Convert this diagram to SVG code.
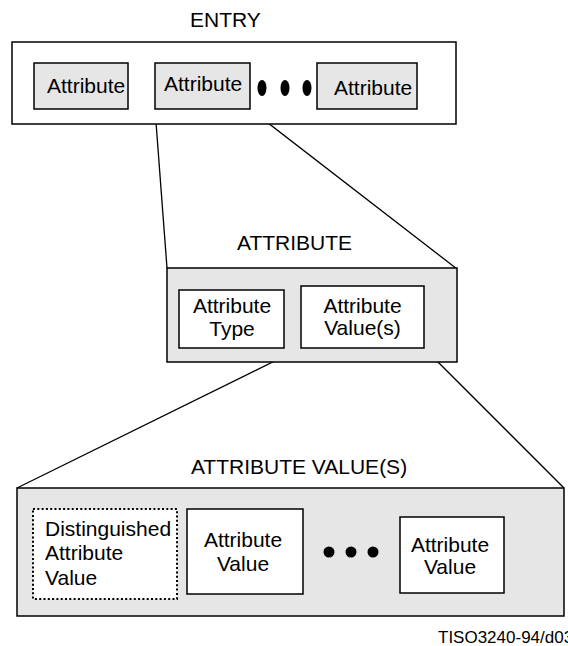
<svg xmlns="http://www.w3.org/2000/svg" width="568" height="646" viewBox="0 0 568 646">
<style>
text{font-family:"Liberation Sans",Arial,sans-serif;font-size:21px;fill:#000}
.box{stroke:#000;stroke-width:1.5}
.g{fill:#e6e6e6}
.w{fill:#fff}
.con{stroke:#000;stroke-width:1.3;fill:none}
.dot{fill:#000}
</style>
<rect width="568" height="646" fill="#fff"/>
<g id="connectors">
<line class="con" x1="155" y1="109" x2="167" y2="268"/>
<line class="con" x1="250" y1="109" x2="457" y2="269"/>
<line class="con" x1="301" y1="348" x2="17" y2="488"/>
<line class="con" x1="424" y1="348" x2="564" y2="488"/>
</g>
<g id="entry">
<text x="190" y="27">ENTRY</text>
<rect class="box w" x="12" y="42" width="444" height="82"/>
</g>
<g id="entry-attr1">
<rect class="box g" x="34" y="63" width="94" height="46"/>
<text x="47" y="93">Attribute</text>
</g>
<g id="entry-attr2">
<rect class="box g" x="155" y="63" width="95" height="46"/>
<text x="164" y="91">Attribute</text>
</g>
<g id="entry-dots">
<ellipse class="dot" cx="262" cy="88" rx="4.5" ry="8"/>
<ellipse class="dot" cx="285" cy="88" rx="4.5" ry="8"/>
<ellipse class="dot" cx="307" cy="88" rx="4.5" ry="8"/>
</g>
<g id="entry-attr3">
<rect class="box g" x="317" y="63" width="100" height="46"/>
<text x="334" y="95">Attribute</text>
</g>
<g id="attribute">
<text x="237" y="250">ATTRIBUTE</text>
<rect class="box g" x="167" y="268" width="290" height="94"/>
</g>
<g id="attr-type">
<rect class="box w" x="179" y="290" width="105" height="58"/>
<text x="232" y="313" text-anchor="middle">Attribute</text>
<text x="232" y="336" text-anchor="middle">Type</text>
</g>
<g id="attr-values">
<rect class="box w" x="301" y="286" width="123" height="62"/>
<text x="362.5" y="313" text-anchor="middle">Attribute</text>
<text x="362.5" y="335" text-anchor="middle">Value(s)</text>
</g>
<g id="attribute-values">
<text x="299" y="474" text-anchor="middle">ATTRIBUTE VALUE(S)</text>
<rect class="box g" x="17" y="488" width="547" height="128"/>
</g>
<g id="distinguished">
<rect x="33" y="509" width="144" height="90" fill="#fff" stroke="#000" stroke-width="2" stroke-dasharray="2 2.3"/>
<text x="45" y="536">Distinguished</text>
<text x="45" y="560">Attribute</text>
<text x="45" y="585">Value</text>
</g>
<g id="av1">
<rect class="box w" x="187" y="509" width="116" height="85"/>
<text x="243" y="547" text-anchor="middle">Attribute</text>
<text x="243" y="571" text-anchor="middle">Value</text>
</g>
<g id="av-dots">
<circle class="dot" cx="329" cy="552" r="5.5"/>
<circle class="dot" cx="351" cy="552" r="5.5"/>
<circle class="dot" cx="373" cy="552" r="5.5"/>
</g>
<g id="av3">
<rect class="box w" x="400" y="517" width="104" height="76"/>
<text x="450" y="552" text-anchor="middle">Attribute</text>
<text x="450" y="574" text-anchor="middle">Value</text>
</g>
<text x="438" y="643" style="font-size:17px">TISO3240-94/d03</text>
</svg>
